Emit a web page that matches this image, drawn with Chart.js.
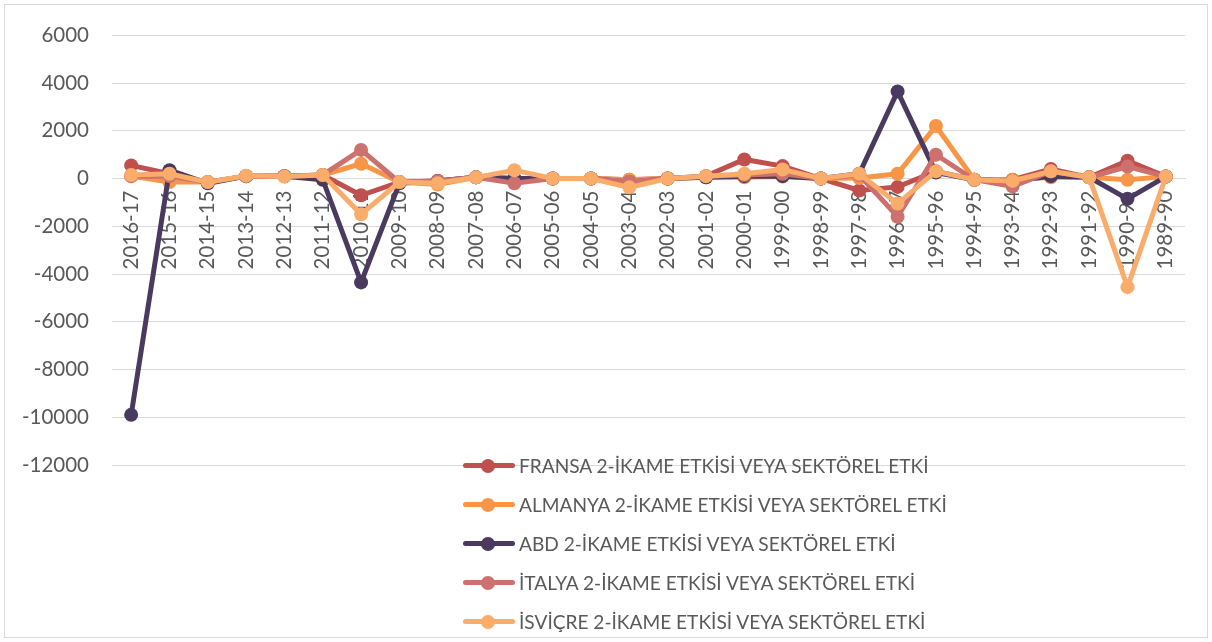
<!DOCTYPE html>
<html lang="tr">
<head>
    <meta charset="UTF-8">
    <title>2-İkame Etkisi veya Sektörel Etki</title>
    <script src="https://cdn.jsdelivr.net/npm/chart.js"></script>
    <style>
        html, body { margin: 0; padding: 0; background: #fff; }
        #wrap { position: relative; width: 1212px; height: 642px; }
        #frame {
            position: absolute; left: 4px; top: 4px; right: 4px; bottom: 4px;
            border: 1px solid #d9d9d9; pointer-events: none;
        }
        #legend {
            position: absolute; left: 463px; top: 446px;
            font-family: Lato, sans-serif; font-size: 19.1px; color: #595959;
        }
        .item { display: flex; align-items: center; height: 39px; white-space: nowrap; }
        .key { position: relative; width: 52px; height: 14px; margin-right: 4px; }
        .key .ln { position: absolute; left: 0; right: 0; top: 4.5px; height: 5px; border-radius: 2.5px; }
        .key .dot { position: absolute; left: 18px; top: 0; width: 14px; height: 14px; border-radius: 50%; }
    </style>
</head>
<body>
<div id="wrap">
    <canvas id="chart" width="1212" height="642"></canvas>
    <div id="legend"></div>
    <div id="frame"></div>
</div>

<script>
    // Categories (as on the x axis, newest first)
    const years = ['2016-17', '2015-16', '2014-15', '2013-14', '2012-13', '2011-12', '2010-11',
        '2009-10', '2008-09', '2007-08', '2006-07', '2005-06', '2004-05', '2003-04', '2002-03',
        '2001-02', '2000-01', '1999-00', '1998-99', '1997-98', '1996-97', '1995-96', '1994-95',
        '1993-94', '1992-93', '1991-92', '1990-91', '1989-90'];

    // Values
    const fransa = [550, 200, -150, 100, 100, 150, -700, -150, -100, 50, 0, 0, 0, -50, 0, 100,
        800, 520, 0, -500, -350, 300, -50, -50, 400, 50, 750, 80];
    const almanya = [100, -150, -150, 100, 100, 150, 620, -150, -250, 50, 0, 0, 0, -50, 0, 50,
        50, 80, 0, 20, 200, 2200, -50, -50, 50, 50, -50, 80];
    const abd = [-9900, 350, -200, 100, 100, -50, -4350, -200, -100, 50, 0, 0, 0, -150, 0, 50,
        100, 100, 0, 200, 3650, 250, -50, -100, 100, 50, -850, 80];
    const italya = [100, 100, -150, 100, 100, 150, 1200, -150, -100, 50, -200, 0, 0, -130, 0, 100,
        150, 200, 0, 150, -1600, 1000, -50, -330, 300, 50, 500, 80];
    const isvicre = [150, 200, -150, 120, 80, 150, -1500, -150, -200, 50, 350, 0, 0, -370, 0, 100,
        200, 380, 0, 200, -1050, 300, -50, -100, 300, 50, -4550, 80];

    const seriesNames = [
        'FRANSA 2-İKAME ETKİSİ VEYA SEKTÖREL ETKİ',
        'ALMANYA 2-İKAME ETKİSİ VEYA SEKTÖREL ETKİ',
        'ABD 2-İKAME ETKİSİ VEYA SEKTÖREL ETKİ',
        'İTALYA 2-İKAME ETKİSİ VEYA SEKTÖREL ETKİ',
        'İSVİÇRE 2-İKAME ETKİSİ VEYA SEKTÖREL ETKİ'
    ];
    const seriesData = [fransa, almanya, abd, italya, isvicre];
    const seriesColors = ['#C0504D', '#F79646', '#4B3A60', '#CD716E', '#FAAC6A'];

    const yMin = -12000, yMax = 6000, yStep = 2000;

    Chart.defaults.font.family = 'Lato, sans-serif';
    Chart.defaults.font.size = 20.5;
    Chart.defaults.color = '#595959';

    const datasets = seriesNames.map((name, i) => ({
        label: name,
        data: seriesData[i],
        borderColor: seriesColors[i],
        backgroundColor: seriesColors[i],
        pointBackgroundColor: seriesColors[i],
        pointBorderWidth: 0,
        pointRadius: 7,
        borderWidth: 5,
        tension: 0,
        fill: false,
        order: seriesNames.length - 1 - i // last series drawn on top, like Excel
    }));

    const ctx = document.getElementById('chart').getContext('2d');
    const chart = new Chart(ctx, {
        type: 'line',
        data: { labels: years, datasets: datasets },
        options: {
            responsive: false,
            animation: false,
            layout: { padding: { top: 33, right: 27, bottom: 177, left: 0 } },
            plugins: {
                legend: { display: false },
                tooltip: { enabled: false }
            },
            scales: {
                x: {
                    position: { y: 0 },
                    offset: true,
                    grid: { display: false },
                    border: { display: true, color: '#d9d9d9', width: 1 },
                    ticks: {
                        autoSkip: false,
                        minRotation: 90,
                        maxRotation: 90,
                        padding: 4
                    }
                },
                y: {
                    min: yMin,
                    max: yMax,
                    ticks: {
                        stepSize: yStep,
                        padding: 23,
                        callback: function (value) { return String(value); }
                    },
                    grid: { color: '#d9d9d9', lineWidth: 1, drawTicks: false },
                    border: { display: false },
                    afterFit: function (scale) { scale.width = 112; }
                }
            }
        }
    });

    // Legend laid over the lower part of the plot, as in the original
    const legend = document.getElementById('legend');
    seriesNames.forEach((name, i) => {
        const row = document.createElement('div');
        row.className = 'item';
        row.innerHTML = '<span class="key"><span class="ln" style="background:' + seriesColors[i] +
            '"></span><span class="dot" style="background:' + seriesColors[i] + '"></span></span>' +
            '<span>' + name + '</span>';
        legend.appendChild(row);
    });
</script>
</body>
</html>
